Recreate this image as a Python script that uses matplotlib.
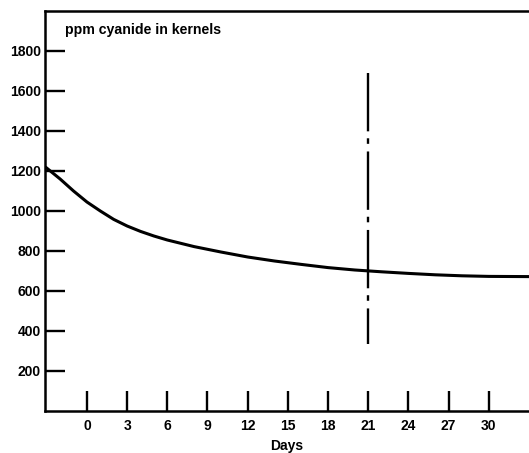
import matplotlib
matplotlib.use("Agg")
import matplotlib.pyplot as plt

plt.rcParams['font.family'] = ['Liberation Sans', 'DejaVu Sans']
plt.rcParams['lines.scale_dashes'] = False

# data
days = [-3.1, -2, -1, 0, 1, 2, 3, 4, 5, 6, 8, 10, 12, 14, 16, 18, 20, 22, 24, 26, 28, 30, 33]
ppm = [1220, 1160, 1100, 1045, 1000, 958, 925, 898, 875, 855, 822, 795, 770, 750,
       733, 717, 705, 696, 688, 681, 676, 673, 672]
x_ticks = [0, 3, 6, 9, 12, 15, 18, 21, 24, 27, 30]
y_ticks = [200, 400, 600, 800, 1000, 1200, 1400, 1600, 1800]
marker_day = 21
marker_range = [1690, 335]

fig = plt.figure(figsize=(5.29, 4.53), dpi=100)
ax = fig.add_axes([45 / 529, 1 - 411 / 453, 1 - 45 / 529, 400 / 453])

ax.plot(days, ppm, color='black', lw=2.2, solid_capstyle='butt')
ax.plot([marker_day, marker_day], marker_range, color='black', lw=1.7,
        linestyle=(0, (42, 5, 4, 5.5)))

ax.set_xlim(-3.13, 33)
ax.set_ylim(0, 2000)

for side in ['left', 'bottom', 'top']:
    ax.spines[side].set_linewidth(1.8)
ax.spines['right'].set_visible(False)

ax.set_xticks(x_ticks)
ax.set_yticks(y_ticks)
ax.tick_params(axis='both', direction='in', length=14.4, width=1.7,
               labelsize=10)
ax.tick_params(axis='x', pad=5.5)
ax.tick_params(axis='y', pad=3)
for lbl in ax.get_xticklabels() + ax.get_yticklabels():
    lbl.set_fontweight('bold')

ax.set_xlabel('Days', fontsize=10, fontweight='bold', labelpad=4.5)
ax.text(0.041, 0.953, 'ppm cyanide in kernels', transform=ax.transAxes,
        fontsize=10.2, fontweight='bold', va='center', ha='left')

fig.savefig('out.png', dpi=100)
